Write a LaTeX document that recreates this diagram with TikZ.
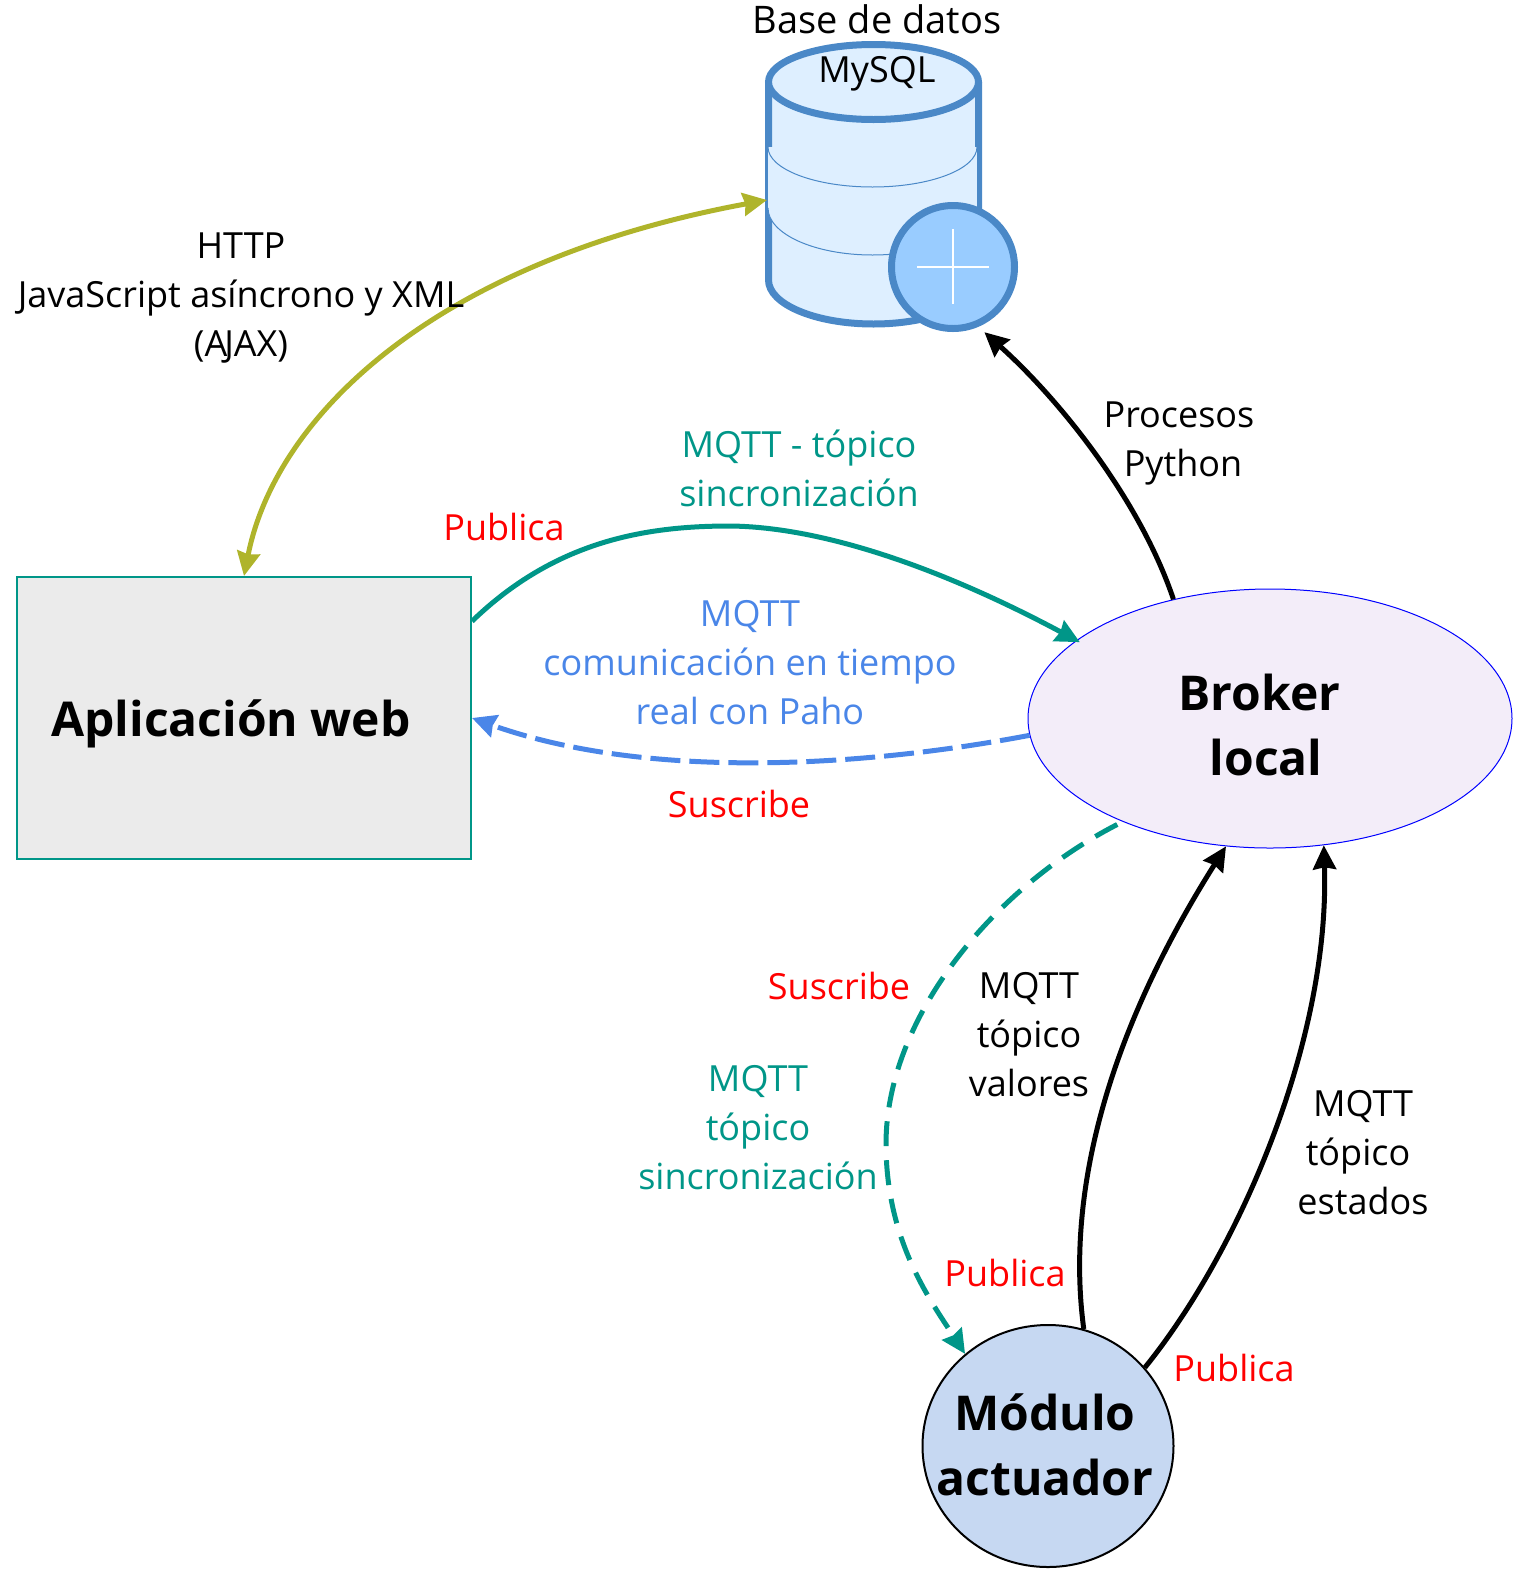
\documentclass[tikz,border=0pt]{standalone}
\usepackage{fontspec}
\setmainfont{Open Sans}
\usetikzlibrary{arrows.meta, shapes.geometric}
\definecolor{tealline}{RGB}{0,150,136}
\definecolor{blueline}{RGB}{74,134,232}
\definecolor{oliveline}{RGB}{175,180,43}
\definecolor{dbline}{RGB}{74,136,199}
\definecolor{dbfill}{RGB}{222,239,255}
\definecolor{dbplusfill}{RGB}{153,204,255}
\definecolor{brokerfill}{RGB}{243,237,249}
\definecolor{modulofill}{RGB}{198,216,242}
\tikzset{
  txt/.style={align=center, inner sep=0pt, font=\fontsize{36}{49}\selectfont},
  boldtxt/.style={align=center, inner sep=0pt, font=\fontsize{48}{65}\selectfont\bfseries},
  tip/.style={-{Stealth[length=24pt,width=23pt,inset=2pt]}},
  conn/.style={line width=5pt, tip}
}

\begin{document}
\begin{tikzpicture}[x=1pt, y=-1pt]
      \useasboundingbox (0,0) rectangle (1524,1575);

      \node[draw=tealline, fill=black!8, line width=2pt, minimum width=454pt, minimum height=282pt, inner sep=0pt] (web) at (244,718) {};
      \node[ellipse, draw=blue, fill=brokerfill, line width=1pt, minimum width=484pt, minimum height=259pt, inner sep=0pt] (broker) at (1270,718.5) {};
      \node[ellipse, draw=black, fill=modulofill, line width=2pt, minimum width=251pt, minimum height=242pt, inner sep=0pt] (modulo) at (1048,1446) {};

      \node[boldtxt] (webtext) at (231,724) {Aplicación web};
      \node[boldtxt] (brokertext) at (1266,725) {Broker\kern13pt\\local};
      \node[boldtxt] (modulotext) at (1045,1445) {Módulo\\actuador};

      % cylinder
      \filldraw[draw=dbline, fill=dbfill, line width=7pt] (768.5,82) -- (768.5,280) arc[start angle=180, end angle=0, x radius=105, y radius=44] -- (978.5,82);
      \filldraw[draw=dbline, fill=dbfill, line width=7pt] (873.5,82) ellipse[x radius=105, y radius=37.5];
      \fill[dbfill] (768,147) rectangle (977,208);
      \fill[dbfill] (768,147) arc[start angle=180, end angle=0, x radius=104.5, y radius=40] -- cycle;
      \fill[dbfill] (768,208) arc[start angle=180, end angle=0, x radius=104.5, y radius=47] -- cycle;
      \draw[dbline, line width=1pt] (768,147) arc[start angle=180, end angle=0, x radius=104.5, y radius=40];
      \draw[dbline, line width=1pt] (768,208) arc[start angle=180, end angle=0, x radius=104.5, y radius=47];
      \node[circle, draw=dbline, fill=dbplusfill, line width=7pt, minimum size=123pt, inner sep=0pt] (dbplus) at (953,267) {};
      \draw[white, line width=1.5pt] (917,267) -- (989,267);
      \draw[white, line width=1.5pt] (953,229) -- (953,304);
      \coordinate (dbside) at (767,200);

      % connectors
      \draw[line width=5pt, oliveline, {Stealth[length=24pt,width=23pt,inset=2pt]}-{Stealth[length=24pt,width=23pt,inset=2pt]}] (web.north) .. controls (275,418) and (432,262) .. (dbside);
      \draw[conn, tealline, shorten >=-4pt] (web.23.8) .. controls (555,541) and (645,526) .. (730,526) .. controls (825,527) and (945,570) .. (broker.158);
      \draw[conn, blueline, dash pattern=on 30pt off 9pt] (broker.184) .. controls (890,762) and (660,785) .. (web.east);
      \draw[conn, tealline, dash pattern=on 25pt off 14pt, shorten <=6pt] (broker.215) .. controls (990,890) and (886,1020) .. (886,1144) .. controls (886,1240) and (930,1300) .. (modulo.132.3);
      \draw[conn, black] (modulo.73.3) .. controls (1065,1190) and (1110,1030) .. (broker.251);
      \draw[conn, black] (modulo.39.7) .. controls (1240,1250) and (1330,1040) .. (broker.293);
      \draw[conn, black, shorten >=8pt] (broker.129.2) .. controls (1140,500) and (1060,400) .. (dbplus.-67);

      % labels
      \node[txt] (dbtext) at (877,48) {{\fontsize{38}{49}\selectfont Base de datos}\\MySQL};
      \node[txt] (httptext) at (241,298) {HTTP\\JavaScript asíncrono y XML\\(A\kern-3pt JAX)};
      \node[txt] (pythontext) at (1179,443) {Procesos\\\hspace*{8pt}Python};
      \node[txt, tealline] (synctext) at (799,468) {MQTT - tópico\\sincronización};
      \node[txt, blueline] (pahotext) at (750,663) {MQTT\\comunicación en tiempo\\real con Paho};
      \node[txt, tealline] (synctextb) at (758,1128) {MQTT\\tópico\\sincronización};
      \node[txt] (valorestext) at (1029,1035) {MQTT\\tópico\\valores};
      \node[txt] (estadostext) at (1363,1153) {MQTT\\tópico\kern10pt\\estados};
      \node[txt, red] (pubweb) at (504,527) {Publica};
      \node[txt, red] (subweb) at (739,804) {Suscribe};
      \node[txt, red] (submod) at (839,986) {Suscribe};
      \node[txt, red] (pubval) at (1005,1273) {Publica};
      \node[txt, red] (pubest) at (1234,1368) {Publica};
\end{tikzpicture}
\end{document}
